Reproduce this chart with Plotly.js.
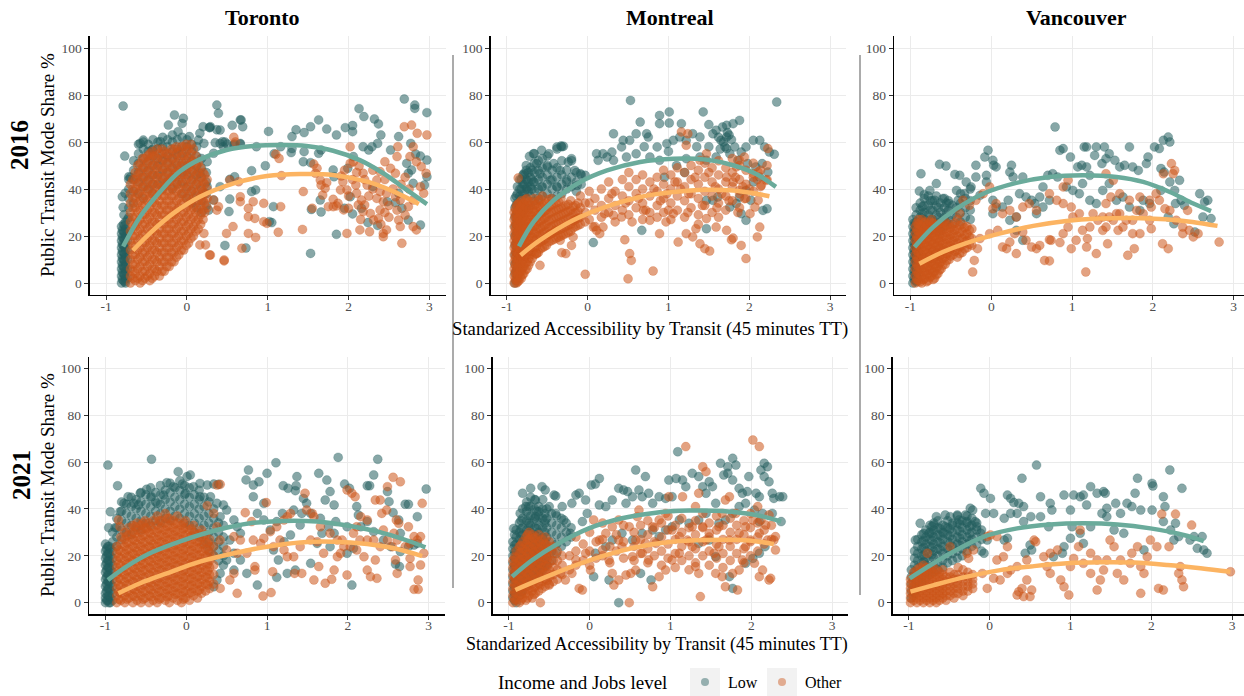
<!DOCTYPE html>
<html>
<head>
<meta charset="utf-8">
<script src="https://cdn.plot.ly/plotly-3.0.1.min.js"></script>
<style>html,body{margin:0;padding:0;background:#fff;}#chart{width:1244px;height:696px;}</style>
</head>
<body>
<div id="chart"></div>
<script>
// ---------------- DATA ----------------
const cities = ['Toronto', 'Montreal', 'Vancouver'];
const years = ['2016', '2021'];
const groups = ['Low', 'Other'];
const legendTitle = 'Income and Jobs level';
const yAxisTitle = 'Public Transit Mode Share %';
const xAxisTitle = 'Standarized Accessibility by Transit (45 minutes TT)';
const xTickVals = [-1, 0, 1, 2, 3];
const xTickText = ['-1', '0', '1', '2', '3'];
const yTickVals = [0, 20, 40, 60, 80, 100];
const yTickText = ['0', '20', '40', '60', '80', '100'];

// entries: [x, y] or [x, [y, y, ...]] (several points sharing one x)
const torontoLow2016 = [
 [-0.81,[0,3,6,9,12,15,18,21,24]],[-0.785,[1,4,7,10,13,16,19,22,25]],[-0.76,[0,2,5,8,11,14,17,20,23,26]],[-0.735,[2,6,10,14,18,22,27]],
 [-0.8,[1.5,4.5,7.5,10.5,13.5,16.5,19.5,22.5]],[-0.77,[0.5,3.5,6.5,9.5,12.5,15.5,18.5,21.5,24.5]],
 [-0.79,75.3],[-0.77,54],[-0.8,36.7],[-0.79,32.2],[-0.7,45],[-0.765,38.2],[-0.72,45.2],[-0.78,29],
 [-0.72,[28,32,36,40,44]],[-0.66,[34,39,44,48,52]],[-0.6,[38,43,47,51,55,59]],[-0.54,[36,41,45,49,53,57,60]],
 [-0.48,[40,44,48,52,56,59]],[-0.42,[38,42,46,50,54,57,61]],[-0.36,[42,46,50,53,57,60]],[-0.3,[40,44,48,52,55,58,62]],
 [-0.24,[43,47,51,54,58,61]],[-0.18,[40,45,49,53,56,60,63]],[-0.12,[42,46,50,54,57,61]],[-0.06,[38,43,47,51,55,58,62]],
 [0,[36,41,46,50,54,58,61]],[0.06,[34,39,44,48,52,56,59]],[0.12,[32,37,42,46,50,54,58]],[0.18,[30,35,40,45,49,53]],[0.24,[33,38,43,47]],
 [-0.58,59.4],[-0.54,60.8],[-0.43,56.6],[-0.33,60.1],[-0.23,67.2],[-0.155,71.5],[-0.045,70.1],[-0.06,67.9],[-0.11,64.4],[0.03,62.3],
 [0.16,63.7],[0.14,60.8],[0.25,51.6],[0.37,75.7],[0.39,72.2],[0.29,66.5],[0.41,65.1],[0.67,69.4],
 [0.2,66.5],[0.28,66.2],[0.37,65.2],[0.41,59.4],[0.45,58],[0.47,60],[0.58,58.7],[0.66,59.1],[0.21,59.4],[0.33,55.2],[0.16,46.7],
 [0.25,41],[0.33,35.3],[0.27,31],[0.41,41],
 [2.69,78.3],[2.82,75.7],[2.82,74.3],[2.97,72.5],[2.13,74.2],[2.19,70.8],[2.32,69.8],[2.37,67.7],[1.63,69.4],[1.53,66.5],[1.73,65.5],
 [1.35,65.2],[1.01,64.5],[1.96,66.1],[2.05,67],[2.05,64.4],[1.85,63],[1.45,64],[1.3,62.3],[2.4,63],[2.36,59.4],[2.62,62.3],[2.77,59.4],
 [2.83,54.9],[2.89,54],[2.97,52.3],[2.97,45.2],[2.94,41.7],[2.89,24.7],[2.74,26.8],[2.66,31.8],[2.58,34.2],[2.48,34.6],[2.36,24.5],
 [1.85,20.7],[1.66,30.2],[1.54,31.3],[1.53,12.6],[1.53,51.2],[1.44,51.6],[1.63,55.2],[1.66,56.6],[1.45,55.9],[1.29,55.5],[1.3,57.2],
 [1.16,58],[1.08,55],[0.97,49.9],[0.86,58],[0.66,59.4],[0.69,66.5],[0.66,69.4],[0.56,67.1],[0.44,60.1],[0.5,59.1],[0.59,59.1],[0.35,59.7],
 [0.28,66.1],[0.53,44.1],[0.59,45.2],[0.53,35.7],[0.52,30.4],[0.47,16],[0.73,14.9],[1.05,25.7],[1.02,26.1],[1.07,32.5],[0.85,39.6],
 [0.8,47.8],[0.8,38.9],[2.02,36.7],[2.16,31.8],[2.24,25.7],[2.05,29.4],[1.95,31.8],[2.25,56.6],[2.29,58],[2.52,56.6],[2.74,46.7],
 [2.8,42.4],[2.62,38.2],[2.3,41],[1.82,45.2],[1.65,35.3],[2.72,50.9],[2.78,48.1],[1.81,48.1],[2.06,53.8],[2.18,58],[1.99,48.8]
];
const torontoOther2016 = [
 [-0.70,[0,3,6,10,14,18,22,26,30,34,38,42]],[-0.64,[1,4,8,12,16,20,24,28,32,36,40,44,47]],
 [-0.58,[0,3,7,11,15,19,23,27,31,35,39,43,47,51]],[-0.52,[2,5,9,13,17,21,25,29,33,37,41,45,49,53]],
 [-0.46,[1,4,8,12,16,20,24,28,32,36,40,44,48,52,55]],[-0.40,[3,6,10,14,18,22,26,30,34,38,42,46,50,54]],
 [-0.34,[3,7,11,15,19,23,27,31,35,39,43,47,51,55]],[-0.28,[5,9,13,17,21,25,29,33,37,41,45,49,53,56]],
 [-0.22,[7,11,15,19,23,27,31,35,39,43,47,51,55]],[-0.16,[9,13,17,21,25,29,33,37,41,45,49,53,57]],
 [-0.10,[12,16,20,24,28,32,36,40,44,48,52,56]],[-0.04,[14,18,22,26,30,34,38,42,46,50,54,58]],
 [0.02,[17,21,25,29,33,37,41,45,49,53,57]],[0.08,[20,24,28,32,36,40,44,48,52,57]],
 [0.14,[23,27,31,35,39,43,47,51]],[0.20,[27,31,35,39,43,47]],[0.25,[32,36,40,44]],
 [-0.67,[2,5,8,12,16,20,24,28,32,36,40,44]],[-0.61,[2,6,10,14,18,22,26,30,34,38,42,46,50]],
 [-0.55,[1,5,9,13,17,21,25,29,33,37,41,45,49,53]],[-0.49,[3,7,11,15,19,23,27,31,35,39,43,47,51,54]],
 [-0.43,[2,6,10,14,18,22,26,30,34,38,42,46,50,54,56]],[-0.37,[5,9,13,17,21,25,29,33,37,41,45,49,53,57]],
 [-0.31,[5,9,13,17,21,25,29,33,37,41,45,49,53,57]],[-0.25,[7,11,15,19,23,27,31,35,39,43,47,51,55]],
 [-0.19,[9,13,17,21,25,29,33,37,41,45,49,53,57]],[-0.13,[11,15,19,23,27,31,35,39,43,47,51,55,58]],
 [-0.07,[14,18,22,26,30,34,38,42,46,50,54,58]],[-0.01,[16,20,24,28,32,36,40,44,48,52,56,59]],
 [0.05,[19,23,27,31,35,39,43,47,51,55,59]],[0.11,[22,26,30,34,38,42,46,50,54]],[0.17,[25,29,33,37,41,45,49]],[0.22,[30,34,38,42,46]],
 [0.29,11.9],[0.46,9.4],[0.23,16.2],[0.28,11.9],[0.46,9.8],[0.16,16.2],[0.21,21.1],
 [0.58,62],[0.6,60],[0.64,43.1],[0.53,43.8],[0.66,36.7],[0.66,34.6],[0.76,31.8],[0.82,34.6],[0.76,28.2],[0.84,27.5],[0.95,33.9],
 [0.95,26.1],[0.99,25.4],[0.76,21.1],[0.85,19.4],[0.68,14.8],[0.57,24],[0.49,21.1],[0.37,31],[0.39,32.5],[0.33,35.3],[1.1,54.8],
 [1.14,53],[1.17,45.7],[1.16,32.5],[1.13,21.6],[1.43,22.8],[1.44,38.9],[1.55,31.8],[1.57,50.6],[1.59,46.7],[1.61,48.8],[1.65,43.8],
 [1.66,41.7],[1.71,40.3],[1.73,42.7],[1.68,37.4],[1.81,35.6],[1.87,33.9],[1.94,31.1],[2,31.8],[1.98,21.1],[1.85,32.8],[1.75,32.5],
 [1.91,45.5],[1.93,43.1],[1.98,39.6],[2.02,50.9],[2.06,51.6],[2.13,49.8],[2.18,46.7],[2.23,41.7],[2.09,41.7],[2.1,38.2],[2.16,35.3],
 [2.2,33.2],[2.27,29.6],[2.31,26.8],[2.37,27.5],[2.39,31.1],[2.43,34.6],[2.47,38.2],[2.39,38.9],[2.35,43.8],[2.39,47.4],[2.45,51.6],
 [2.52,48.8],[2.58,46.7],[2.6,53.8],[2.61,58],[2.69,66.5],[2.78,67.2],[2.85,63.7],[2.97,63],[2.8,58],[2.76,53.8],[2.84,51.6],
 [2.9,49.5],[2.96,46.7],[2.89,41],[2.93,38.2],[2.8,35.3],[2.74,32.5],[2.7,28.9],[2.62,26.8],[2.64,24],[2.66,16.9],[2.8,24],[2.84,22.6],
 [2.43,21.1],[2.43,19.7],[2.47,22.6],[2.14,22.6],[2.26,21.8],[2.18,30.4],[2.12,33.2],[2.58,36.7],[2.64,35.3],[1.9,39.6],[1.81,32.5],
 [2.02,58],[2.2,44],[2.3,40],[2.35,36],[2.45,30],[2.5,33],[2.55,40],[2.3,48],[2.25,37],[2.4,25],[2.15,27],[2.05,44],[2.0,37],[1.95,48],
 [2.5,28],[2.6,31],[2.65,42],[2.7,45],[2.75,40],[2.1,47],[2.45,44]
];
const montrealLow2016 = [
 [-0.9,[0,4,8,12,16,20,24,28,32,36]],[-0.87,[2,6,10,14,18,22,26,30,34,38,41]],[-0.885,[1,5,9,13,17,21,25,29,33,37]],
 [-0.84,[25,29,33,37,40,44]],
 [-0.8,[30,34,38,42,46]],[-0.76,[32,36,40,44,48]],[-0.71,[33,37,41,45,49]],[-0.66,[35,39,43,47,51,55]],
 [-0.61,[36,40,44,48,52]],[-0.56,[37,41,45,49,53]],[-0.5,[38,42,46,50,54]],[-0.44,[36,40,44,48]],
 [-0.38,[37,41,45,49,57]],[-0.32,[38,42,46,52,58]],[-0.26,[40,44,48]],[-0.2,[41,45,52]],[-0.14,[39,43,47]],[-0.08,[42,46]],
 [-0.82,[36,40,44]],[-0.78,[38,42,46]],[-0.735,[39,43,47]],[-0.69,[40,44,48]],
 [-0.72,53.9],[-0.67,55],[-0.57,56.5],[-0.48,55],[-0.38,57.9],[-0.33,58.3],[-0.3,58.2],[-0.79,46.5],[-0.76,50],[-0.63,50.8],
 [-0.59,46.5],[-0.5,49.4],[-0.42,50.8],[-0.34,47.9],[-0.24,51.5],[-0.2,52.9],[-0.16,47.9],[-0.09,46.5],[-0.03,45.8],[-0.13,41.6],
 [-0.26,43],[-0.38,40.9],[-0.46,43.7],[-0.57,40.9],[-0.67,43],[-0.75,40.9],
 [0.53,77.7],[0.65,68.5],[0.89,71.3],[1.01,72.8],[1.01,68.1],[0.89,67.8],[1.16,67.8],[1.43,72.8],[1.5,67.4],[1.59,65],[1.67,66.4],
 [1.72,67.1],[1.8,67.8],[1.88,69.2],[2.34,77],[2.31,54.8],[2.25,55.7],[2.19,57.9],[2.13,60.7],[2.05,60.7],[1.96,57.9],[1.9,55.7],
 [1.82,57.9],[1.72,62.1],[1.65,60.7],[1.55,63.5],[1.39,62.1],[1.3,63.5],[1.22,60.7],[1.14,62.1],[1.06,60.7],[0.98,59.3],[0.86,57.9],
 [0.75,62.1],[0.73,63.5],[0.6,63.5],[0.52,60.7],[0.44,60.7],[0.32,63.5],[0.42,57.9],[0.3,55.7],[0.19,55],[0.11,55],[0.13,52.2],
 [0.24,53.6],[0.32,52.2],[0.48,53.6],[0.6,55],[0.77,53.6],[0.89,52.2],[1.22,52.9],[1.39,53.6],[1.47,52.2],[1.59,53.6],[1.72,57.2],
 [1.76,55],[1.86,52.2],[1.98,50.8],[2.08,49.4],[2.16,50.8],[2.23,47.2],[2.13,45.1],[2.05,43],[1.96,39.4],[1.88,36.6],[1.76,32.3],
 [1.84,33.8],[1.9,29.5],[1.96,26.7],[2.17,30.9],[2.22,31.6],[2.02,35.2],[1.47,35.2],[1.55,35.2],[1.61,36.6],[0.67,22.4],[0.07,17.2],
 [1.47,23.1],[1.62,62],[1.68,60],[1.75,63],[1.7,58],[1.78,61],[1.64,57],[1.73,64],[1.0,56],[1.1,50],[0.7,58],[1.35,58],[0.95,45],
 [1.2,47],[1.5,58]
];
const montrealOther2016 = [
 [-0.91,[0,3,6,9,12,15,18,21,24,27,30]],[-0.88,[0,3,6,9,12,15,18,21,24,27,30,33]],[-0.85,[1,4,7,10,13,16,19,22,25,28,31,34]],
 [-0.82,[2,5,8,11,14,17,20,23,26,29,32,35]],[-0.79,[4,7,10,13,16,19,22,25,28,31,34]],[-0.75,[6,9,12,15,18,21,24,27,30,33,36]],
 [-0.71,[9,12,15,18,21,24,27,30,33]],[-0.66,[12,15,18,21,24,27,30,33,36]],[-0.61,[13,17,20,23,26,29,32,35]],
 [-0.56,[15,18,21,24,27,30,33,37]],[-0.51,[16,19,22,25,28,31,34]],[-0.45,[18,21,24,27,30,33,36]],[-0.39,[19,22,25,28,31,34]],
 [-0.33,[20,23,26,29,32,36]],[-0.27,[21,24,27,30,33]],[-0.21,[22,25,28,31,35]],[-0.15,[24,27,30,33]],[-0.09,[25,28,32,37]],[-0.03,[26,30,34]],
 [-0.895,[1.5,4.5,7.5,10.5,13.5,16.5,19.5,22.5,25.5,28.5,31.5]],[-0.865,[0.5,3.5,6.5,9.5,12.5,15.5,18.5,21.5,24.5,27.5,30.5,33.5]],
 [-0.835,[2.5,5.5,8.5,11.5,14.5,17.5,20.5,23.5,26.5,29.5,32.5]],[-0.805,[3.5,6.5,9.5,12.5,15.5,18.5,21.5,24.5,27.5,30.5,33.5]],
 [-0.77,[5.5,8.5,11.5,14.5,17.5,20.5,23.5,26.5,29.5,32.5,35.5]],[-0.73,[7.5,10.5,13.5,16.5,19.5,22.5,25.5,28.5,31.5,34.5]],
 [-0.685,[10.5,13.5,16.5,19.5,22.5,25.5,28.5,31.5,34.5]],[-0.635,[12.5,15.5,18.5,21.5,24.5,27.5,30.5,33.5]],
 [-0.585,[14.5,17.5,20.5,23.5,26.5,29.5,32.5,35.5]],[-0.535,[15.5,18.5,21.5,24.5,27.5,30.5,33.5]],
 [-0.48,[17.5,20.5,23.5,26.5,29.5,32.5,35.5]],[-0.42,[18.5,21.5,24.5,27.5,30.5,33.5]],[-0.36,[19.5,22.5,25.5,28.5,31.5,34.5]],
 [-0.3,[20.5,23.5,26.5,29.5,32.5]],[-0.24,[21.5,24.5,27.5,30.5,33.5]],[-0.18,[23.5,26.5,29.5,32.5]],[-0.12,[24.5,27.5,30.5,34]],
 [-0.86,44.7],[-0.59,7.5],[-0.63,12.5],[-0.46,21],[-0.32,12.9],[-0.27,12.5],[-0.2,16],[-0.18,19.6],[-0.34,18.2],[-0.4,22.4],[-0.03,3.7],
 [0.07,23.8],[0.11,22.4],[0.15,21],[0.19,23.8],[0.21,29.5],[0.32,28.8],[0.42,28.1],[0.46,18.4],[0.52,12.5],[0.54,9.6],[0.5,1.8],
 [0.81,5.1],[0.69,30.9],[0.77,26.7],[0.89,21],[0.97,26],[1.06,29.5],[1.12,17.4],[1.22,21],[1.3,19.6],[1.39,16.7],[1.45,14.6],
 [1.51,13.6],[1.34,23.1],[1.47,27.4],[1.59,23.8],[1.72,22.4],[1.78,18.4],[1.8,19.1],[1.9,16],[1.96,10.4],[2.1,19.6],[2.13,23.8],
 [2.01,29.5],[2.07,32.3],[2.11,35.2],[1.94,35.9],[1.88,39.4],[1.8,43],[1.72,45.1],[1.84,49.4],[1.88,52.2],[1.94,53.6],[2.05,46.5],
 [2.11,47.2],[2.15,41.6],[2.21,43.7],[2.23,57.2],[1.47,55],[1.39,52.2],[1.24,63.5],[1.16,64.3],[1.22,58.6],
 [0.02,[27,34,39]],[0.09,[31,24,36]],[0.17,[33,40,28]],[0.26,[30,36,43]],[0.34,[26,33,39]],[0.43,[31,37,44]],[0.51,[29,35,41,47]],
 [0.6,[32,38,44]],[0.68,[27,34,40,46]],[0.77,[30,37,43]],[0.86,[33,39,45,28]],[0.94,[30,36,42,48]],[1.03,[27,34,40,46]],
 [1.11,[31,37,43,49]],[1.2,[28,35,41,47]],[1.28,[32,38,44,50]],[1.37,[29,36,42,48,25]],[1.45,[33,39,45,51]],[1.54,[30,37,43,49]],
 [1.62,[34,40,46,52,28]],[1.71,[31,37,43,49]],[1.79,[35,41,47,53]],[1.88,[32,38,44,50]],[1.96,[36,42,48]],[2.05,[39,45,51]],
 [2.14,[41,48]],[2.22,[44,50]],
 [0.55,26],[0.72,31],[0.9,35],[1.08,43],[1.25,38],[1.42,33],[1.58,41],[1.75,35],[1.92,41],[2.1,44],[1.33,45],[1.5,47],[1.66,38],
 [1.83,45],[1.15,40],[0.98,38],[0.82,40],[0.63,36],[0.47,34],[0.3,38],[1.0,31],[1.24,30],[1.6,32],[1.86,30],[2.0,40]
];
const vancouverLow2016 = [
 [-0.97,[0,3,6,9,12,15,18,21,24,27]],[-0.94,[1,4,7,10,13,16,19,22,25]],[-0.91,[2,5,8,11,14,17]],
 [-0.955,[1.5,4.5,7.5,10.5,13.5,16.5,19.5,22.5,25.5]],[-0.925,[0.5,3.5,6.5,9.5,12.5,15.5,18.5]],
 [-0.93,[20,23,26,29,32]],[-0.88,[22,25,28,31,34]],[-0.83,[24,27,30,33,36]],[-0.78,[21,25,29,33,37]],[-0.73,[23,27,31,35]],
 [-0.68,[25,29,33,37]],[-0.63,[22,26,30,34]],[-0.58,[24,28,32,36]],[-0.53,[27,31,35]],[-0.48,[25,29,33]],[-0.43,[28,32]],
 [-0.38,[26,30,34,38]],[-0.32,[28,32,36]],[-0.26,[27,31,35,40]],
 [-0.855,[23.5,26.5,29.5,32.5]],[-0.755,[24,27,31,35]],[-0.655,[24,28,32]],[-0.555,[26,30,34]],
 [-0.89,39.1],[-0.76,39.4],[-0.87,46.5],[-0.64,50.5],[-0.56,49.8],[-0.68,42.3],[-0.83,37.6],[-0.7,35.2],[-0.6,35.9],[-0.52,33.8],
 [-0.43,39.4],[-0.45,46.2],[-0.39,45.8],[-0.31,43],[-0.33,38],[-0.41,35.2],[-0.25,40.9],[-0.19,45.1],[-0.19,50.1],[-0.08,53.6],
 [-0.04,56.5],[0.02,52.2],[0.03,50.1],[-0.06,45.8],[-0.06,43],[-0.14,37.3],[0.02,35.2],[0.06,32.3],[0.14,32.3],[0.21,35.2],
 [0.23,47.2],[0.25,50.1],[0.27,45.1],[0.39,45.1],[0.35,38],[0.43,36.6],[0.5,35.2],[0.54,33.8],[0.6,36.6],[0.64,40.9],[0.7,45.8],
 [0.76,46.5],[0.82,45.1],[0.85,56.5],[0.89,57.2],[0.79,66.4],[0.98,53.6],[1.07,49.4],[1.12,50.1],[1.18,49.4],[1.22,45.8],[1.13,42.3],
 [1.15,57.9],[1.18,57.9],[1.3,57.9],[1.4,57.9],[1.28,54.3],[1.37,50.8],[1.46,55],[1.42,52.9],[1.53,52.2],[1.59,49.4],[1.65,50.1],
 [1.71,57.9],[1.75,49.4],[1.82,47.9],[1.92,50.8],[1.94,53.6],[2.02,57.9],[2.08,57.2],[2.13,60.7],[2.19,62.1],[2.21,60],[2.1,48.7],
 [2.14,47.2],[2.21,43],[2.27,39.4],[2.33,43.7],[2.35,35.2],[2.28,33.8],[2.39,33.1],[2.1,39.4],[2.19,28.1],[2.26,25.2],[2.52,21.7],
 [2.62,28.1],[2.72,27.4],[2.58,38],[2.64,34.5],[2.68,35.2],[1.84,30.9],[1.88,35.2],[1.96,33.8],[1.71,32.3],[1.63,36.6],[1.55,35.2],
 [1.46,42.3],[1.38,39.4],[1.3,33.8],[1.22,35.2],[1.09,38],[1.01,39.4],[0.93,40.9],[0.72,35.2],[0.64,32.3],[0.56,29.5],[0.31,28.1],
 [0.23,26.7],[0.31,22.4],[0.39,18.2],[0.02,29.5],[0.06,49.4]
];
const vancouverOther2016 = [
 [-0.94,[0,3,6,9,12,15,18,21,24]],[-0.9,[1,4,7,10,13,16,19,22,25,27]],[-0.86,[0,3,6,9,12,15,18,21,24,27]],
 [-0.82,[2,5,8,11,14,17,20,23,26]],[-0.78,[1,4,7,10,13,16,19,22,25]],[-0.74,[3,6,9,12,15,18,21,24,27]],
 [-0.7,[2,5,8,11,14,17,20,23]],[-0.66,[4,7,10,13,16,19,22,25]],[-0.62,[6,9,12,15,18,21,24]],[-0.57,[8,11,14,17,20,23,26]],
 [-0.52,[10,13,16,19,22,25]],[-0.47,[12,15,18,21,24]],[-0.42,[11,14,17,20,23,27]],[-0.36,[13,16,19,22,25]],[-0.3,[15,18,21,24]],[-0.24,[16,19,23]],
 [-0.92,[1.5,4.5,7.5,10.5,13.5,16.5,19.5,22.5,25.5]],[-0.88,[0.5,3.5,6.5,9.5,12.5,15.5,18.5,21.5,24.5]],
 [-0.84,[1.5,4.5,7.5,10.5,13.5,16.5,19.5,22.5,25.5]],[-0.8,[0.5,3.5,6.5,9.5,12.5,15.5,18.5,21.5,24.5]],
 [-0.76,[2.5,5.5,8.5,11.5,14.5,17.5,20.5,23.5,26]],[-0.72,[1.5,4.5,7.5,10.5,13.5,16.5,19.5,22.5,25.5]],
 [-0.68,[3.5,6.5,9.5,12.5,15.5,18.5,21.5,24.5]],[-0.64,[5.5,8.5,11.5,14.5,17.5,20.5,23.5]],
 [-0.6,[7.5,10.5,13.5,16.5,19.5,22.5,25.5]],[-0.55,[9.5,12.5,15.5,18.5,21.5,24.5]],[-0.5,[11.5,14.5,17.5,20.5,23.5]],
 [-0.45,[13.5,16.5,19.5,22.5,25.5]],[-0.39,[12.5,15.5,18.5,21.5,24.5]],[-0.33,[14.5,17.5,20.5,23.5]],[-0.27,[16.5,19.5,22.5]],
 [-0.23,4.7],[-0.21,9.6],[-0.17,14.6],[-0.14,18.9],[-0.02,21],[0.08,22.4],[0.14,15.3],[0.19,14.6],[0.23,17.4],[0.29,21],[0.31,12.5],
 [0.39,21.7],[0.43,18.2],[0.5,15.3],[0.56,14.6],[0.6,16],[0.66,9.6],[0.72,9.4],[0.72,18.4],[0.74,18.2],[0.85,17.2],[0.99,14.6],
 [0.89,21],[0.95,23.8],[1.01,28.1],[1.05,18.2],[1.18,15.3],[1.17,4.7],[1.19,18.9],[1.3,12.5],[1.44,16.7],[1.57,22.4],[1.69,11.8],
 [1.77,14.6],[2.12,16.7],[2.19,14.6],[2.45,22.4],[2.5,19.6],[2.56,21],[2.43,30.9],[2.37,23.8],[2.82,17.4],[2.23,50.8],[2.27,47.9],
 [2.25,46.5],[2.13,46.5],[2.04,38],[2.08,35.2],[1.98,32.3],[1.98,23.1],[1.96,26.7],[1.88,29.5],[1.8,30.9],[1.75,26.7],[1.67,26.7],
 [1.63,23.8],[1.55,29.5],[1.51,26.7],[1.42,23.8],[1.38,28.1],[1.32,26.7],[1.26,29.5],[1.22,23.8],[1.13,22.4],[1.09,29.5],[0.99,32.3],
 [0.89,33.8],[0.81,35.2],[0.89,40.9],[0.95,43.7],[0.72,38],[0.56,30.9],[0.47,33.8],[0.39,32.3],[0.31,28.1],[0.23,30.9],[0.14,29.5],
 [0.06,33.8],[0.02,31.6],[-0.02,40.9],[-0.1,38],[-0.19,35.2],[-0.27,33.1],[-0.35,35.2],[-0.39,29.5],[1.42,33.8],[1.48,36.6],
 [1.42,46.5],[1.51,43.7],[1.59,38],[1.71,35.2],[1.84,36.6],[1.96,35.2],[2.15,31.6],[2.21,30.9],[2.29,26.7],[2.37,21],[1.84,21],
 [1.75,21],[1.38,22.4],[1.46,28.1],[1.59,29.5]
];
const torontoLow2021 = [
 [-1.0,[0,2,4,7,10,13,16,19,22,25]],[-0.97,[1,3,6,9,12,15,18,21,24]],[-0.94,[0,2,5,8,11,14,17,20,23]],[-0.91,[1,4,7,10,13,16,19,22,26,30]],
 [-0.985,[1,5,8,11,14,17,20,23]],[-0.955,[0,3,6,9,12,15,18,21,24]],
 [-0.86,[24,28,32,36]],[-0.8,[27,31,35,39,43]],[-0.74,[30,34,38,42]],[-0.68,[29,33,37,41,45]],[-0.62,[32,36,40,44]],
 [-0.56,[31,35,39,43,47]],[-0.5,[34,38,42,46]],[-0.44,[33,37,41,45,49]],[-0.38,[35,39,43,47]],[-0.32,[34,38,42,46,50]],
 [-0.26,[36,40,44,48]],[-0.2,[35,39,43,47,51]],[-0.14,[37,41,45,49]],[-0.08,[36,40,44,48,52]],[-0.02,[34,38,42,46,50]],
 [0.04,[33,37,41,45,49]],[0.1,[30,34,38,42,46]],[0.16,[28,32,36,40,44,48]],[0.22,[25,29,33,37,41,45]],[0.28,[22,26,30,34,38,43]],
 [0.34,[20,24,28,32,36,40]],[0.4,[18,22,26,30,34]],[0.46,[16,20,24,28,33]],
 [-0.97,58.7],[-0.43,61.2],[-0.85,49.9],[-0.94,38.8],[-0.96,32],[-0.88,32],[-0.82,38.8],[-0.77,42.4],[-0.72,45.2],[-0.65,42.4],
 [-0.59,41.7],[-0.57,46.7],[-0.49,48.4],[-0.43,45.2],[-0.36,42.4],[-0.28,45.9],[-0.24,51.2],[-0.16,49.5],[-0.1,55.9],[-0.05,50.6],
 [-0.01,46.7],[0.01,53.8],[0.05,54.5],[0.09,49.5],[0.17,50.9],[0.26,50.2],[0.34,50.6],[0.4,50.5],[0.17,45.2],[0.3,45.2],[0.38,42.4],
 [0.46,41.7],[0.5,39.5],[0.42,36.7],[0.59,35.3],[0.63,32.4],[0.67,29.6],[0.54,26.7],[0.59,21.1],[0.5,18.2],[0.42,12.5],[0.38,9.7],
 [0.34,6.8],[0.59,13.9],[0.67,18.2],[0.75,12.5],
 [0.77,56.6],[0.74,52.4],[0.83,50.2],[0.9,51.6],[1,55.2],[1.11,59.7],[1.2,49.9],[1.26,48.8],[1.35,47.8],[1.37,53.8],[1.36,49.9],
 [1.45,44.5],[1.49,42.4],[1.64,55.2],[1.74,52.3],[1.72,43.8],[1.78,47.4],[1.83,41.7],[1.88,62],[1.96,50.6],[2.02,48.8],[2.11,41],
 [2.13,37.4],[2.24,49.9],[2.27,49.9],[2.32,54.5],[2.37,61.2],[2.49,47.4],[2.51,43.1],[2.56,38.4],[2.63,35.3],[2.71,42],[2.75,42],
 [2.86,36.7],[2.97,48.5],[2.82,24.6],[2.64,15.4],[2.59,16.5],[2.05,7.5],[2.07,23.2],[1.99,21.1],[1.78,23.9],[1.83,29.6],[1.76,32.4],
 [1.68,29.6],[1.62,25.3],[1.54,16.8],[1.35,13.9],[1.25,12.5],[1.12,10.8],[0.88,7.5],[1.14,18.2],[1.08,22.5],[1.21,26],[1.29,28.9],
 [1.41,33.1],[1.54,38.1],[1.66,36],[1.85,34.6],[1.99,32.4],[2.16,32.4],[2.24,34.6],[2.32,30.3],[2.44,26.7],[2.53,23.9],[2.65,21.8],
 [2.75,23.9],[2.86,25.3],[2.65,29.6],[1.43,38.1],[1.33,39.5],[1.19,38.1],[1.12,34.6],[1.04,31],[0.96,35.3],[0.88,38.1],[0.83,45.2],[0.96,42.4]
];
const torontoOther2021 = [
 [-0.86,[0,3,6,9,12,15,18,21,24]],[-0.81,[1,4,7,10,13,16,19,22,25,28]],[-0.76,[0,3,6,9,12,15,18,21,24,27,30]],
 [-0.71,[2,5,8,11,14,17,20,23,26,29,32]],[-0.66,[0,3,6,9,12,15,18,21,24,27,30,33]],[-0.61,[1,4,7,10,13,16,19,22,25,28,31,34]],
 [-0.56,[0,3,6,9,12,15,18,21,24,27,30,33]],[-0.51,[2,5,8,11,14,17,20,23,26,29,32,35]],[-0.46,[0,3,6,9,12,15,18,21,24,27,30,34]],
 [-0.41,[1,4,7,10,13,16,19,22,25,28,31,35]],[-0.36,[0,3,6,9,12,15,18,21,24,27,30,33,37]],[-0.31,[2,5,8,11,14,17,20,23,26,29,32,35]],
 [-0.26,[1,4,7,10,13,16,19,22,25,28,31,34,38]],[-0.21,[0,3,6,9,12,15,18,21,24,27,30,33,36]],[-0.16,[2,5,8,11,14,17,20,23,26,29,32,35]],
 [-0.11,[1,4,7,10,13,16,19,22,25,28,31,34,37]],[-0.06,[0,3,6,9,12,15,18,21,24,27,30,33]],[-0.01,[2,5,8,11,14,17,20,23,26,29,32,35]],
 [0.04,[1,4,7,10,13,16,19,22,25,28,31]],[0.09,[3,6,9,12,15,18,21,24,27,30,33]],[0.14,[2,5,8,11,14,17,20,23,26,29]],
 [0.19,[4,7,10,13,16,19,22,25,28,31]],[0.24,[5,8,11,14,17,20,23,26,29]],[0.29,[6,9,12,15,18,21,24,27]],[0.34,[8,12,16,20,24]],
 [-0.835,[1.5,4.5,7.5,10.5,13.5,16.5,19.5,22.5]],[-0.735,[1.5,4.5,7.5,10.5,13.5,16.5,19.5,22.5,25.5,28.5]],
 [-0.635,[2.5,5.5,8.5,11.5,14.5,17.5,20.5,23.5,26.5,29.5,32.5]],[-0.535,[1.5,4.5,7.5,10.5,13.5,16.5,19.5,22.5,25.5,28.5,31.5,34]],
 [-0.435,[2.5,5.5,8.5,11.5,14.5,17.5,20.5,23.5,26.5,29.5,32.5]],[-0.335,[1.5,4.5,7.5,10.5,13.5,16.5,19.5,22.5,25.5,28.5,31.5,35]],
 [-0.235,[2.5,5.5,8.5,11.5,14.5,17.5,20.5,23.5,26.5,29.5,32.5,36]],[-0.135,[3.5,6.5,9.5,12.5,15.5,18.5,21.5,24.5,27.5,30.5,33.5]],
 [-0.035,[1.5,4.5,7.5,10.5,13.5,16.5,19.5,22.5,25.5,28.5,31.5,34]],[0.065,[4.5,7.5,10.5,13.5,16.5,19.5,22.5,25.5,28.5,31.5]],
 [0.165,[5.5,8.5,11.5,14.5,17.5,20.5,23.5,26.5,29.5]],[0.265,[7.5,10.5,13.5,16.5,19.5,22.5,25.5]],
 [-0.84,35.3],[-0.82,32.4],[-0.49,31.7],[0.26,41.4],[0.38,50.2],[0.42,50.5],[0.34,38.1],[0.59,28.2],[0.67,26.7],[0.54,9.7],[0.63,4],
 [0.42,6.1],[0.59,12.5],[0.73,38.4],[0.81,34.6],[0.96,27.5],[0.99,42.7],[1.04,30.3],[0.95,2.8],[1.05,4.3],[0.85,15.4],[0.85,13.9],
 [1.07,13.2],[1.16,26.7],[1.12,32.4],[1.21,35.3],[1.25,36.7],[1.29,38.1],[1.34,12.5],[1.43,12.5],[1.47,46.7],[1.49,39.5],[1.56,38.1],
 [1.58,36.7],[1.54,26.7],[1.58,9.7],[1.64,15.4],[1.7,21.1],[1.72,8.3],[1.8,10],[1.83,13.9],[1.87,19.6],[1.91,21.1],[1.95,23.9],
 [1.99,11.8],[1.99,48.1],[2.05,46.7],[2.09,45.2],[2.11,32.4],[2.15,26.7],[2.2,19.6],[2.24,13.9],[2.28,11.1],[2.36,10.4],[2.34,18.2],
 [2.4,23.9],[2.44,31],[2.42,38.1],[2.48,39.5],[2.4,43.8],[2.34,43.8],[2.49,49.5],[2.56,53.5],[2.65,51.6],[2.63,33.9],[2.61,26.7],
 [2.55,23.9],[2.59,18.2],[2.61,12.5],[2.71,23.9],[2.77,18.9],[2.82,28.2],[2.86,26.7],[2.9,28.2],[2.92,42.4],[2.77,15.4],[2.82,5.7],
 [2.87,5.7],[2.87,9.7],[2.9,16.1],[2.94,21.1],[2.24,26.7],[2.07,29.6],[1.87,26.7],[1.78,29.6],[1.66,32.4],[1.62,26],[1.41,23.9],
 [1.33,19.6],[1.25,19.6],[1.21,22.5],[1.08,23.9],[0.92,25.3],[0.83,26.7],[0.75,21.1],[0.63,21.1],[0.5,22.5],[0.42,26.7],[0.38,32.4],
 [1.93,26.7],[2.03,23.9],[2.11,22.5],[2.16,36.7],[2.24,35.3],[2.32,26.7],[2.49,26.7],[2.57,29.6],[2.77,25.3],[2.75,32.4],[2.6,35.3]
];
const montrealLow2021 = [
 [-0.95,[2,5,8,11,14,17,20,23,26]],[-0.91,[0,4,7,10,13,16,19,22,25,28,31]],[-0.87,[3,6,9,12,15,18,21,24,27,30,34]],
 [-0.83,[5,8,11,14,17,20,23,26,29,32,36,40]],[-0.78,[7,10,13,16,19,22,25,28,31,35,39,43]],[-0.73,[9,12,15,18,21,24,27,30,33,37,41,45]],
 [-0.68,[11,14,17,20,23,26,29,32,36,40,44]],[-0.63,[12,15,18,21,24,27,30,33,37,41]],[-0.58,[14,17,20,24,28,32,36,40,44]],
 [-0.53,[16,20,24,28,32,36,40]],[-0.47,[18,22,26,30,34,38]],[-0.41,[21,25,29,33,37]],[-0.35,[24,28,32,36]],[-0.29,[26,30,34]],[-0.23,[28,32]],
 [-0.93,[1,3.5,6.5,9.5,12.5,15.5,18.5,21.5,24.5,29]],[-0.85,[4.5,7.5,10.5,13.5,16.5,19.5,22.5,25.5,28.5,31.5,35]],
 [-0.755,[8.5,11.5,14.5,17.5,20.5,23.5,26.5,29.5,33,37,41]],[-0.655,[13.5,16.5,19.5,22.5,25.5,28.5,31.5,35,39]],
 [-0.555,[15.5,18.5,22,26,30,34,38]],
 [-0.83,46.7],[-0.73,48.8],[-0.59,49.5],[-0.55,48.1],[-0.44,45.9],[-0.42,45.5],[-0.94,31.7],[-0.86,38.1],[-0.79,41],[-0.67,43.8],
 [-0.63,38.8],[-0.5,41],[-0.67,36.7],[-0.75,33.9],[-0.55,35.3],[-0.42,38.1],[-0.34,41],[-0.22,42.4],[-0.17,45.9],[-0.13,46.7],
 [-0.32,35.3],[-0.24,29.6],[-0.09,34.6],[-0.03,38.1],[0.02,50.2],[0.07,50.6],[0.12,53],[-0.05,43.8],[0.12,41.7],[0.2,41],[0.28,43.8],
 [0.36,48.8],[0.42,48.1],[0.47,47.4],[0.45,42.4],[0.53,45.2],[0.57,56.6],[0.69,53.8],[0.61,48.1],[0.65,45.2],[0.73,46.7],[0.78,42.4],
 [0.86,45.2],[0.94,44.5],[1.02,45.2],[1.09,64.4],[0.98,52.3],[1.07,53],[1.15,52.3],[1.19,49.5],[1.27,55.2],[1.35,53.8],[1.4,49.5],
 [1.44,46.7],[1.48,51.6],[1.52,49.5],[1.56,42.4],[1.62,59.5],[1.66,54.5],[1.71,58],[1.77,61.6],[1.71,55.2],[1.77,52.3],[1.81,58.7],
 [1.85,48.8],[1.89,46.7],[1.97,53.8],[1.95,47.4],[2.06,46.7],[2.1,45.2],[2.12,56.6],[2.16,59.5],[2.2,58],[2.16,53.8],[2.22,51.6],
 [2.26,46.7],[2.28,44.5],[2.35,45.2],[2.39,45.2],[2.37,34.6],[2.1,34.6],[2.14,38.1],[2.04,39.5],[1.93,42.4],[1.85,41],[1.77,38.1],
 [1.68,35.3],[1.6,33.9],[1.44,38.1],[1.35,35.3],[1.23,33.9],[1.11,35.3],[1.02,32.4],[0.94,31],[0.86,28.2],[0.78,31],[0.65,29.6],
 [0.53,26.7],[0.4,29.6],[0.28,26.7],[0.2,23.9],[0.07,21.1],[0.05,11.1],[0.24,9.7],[0.36,0],[0.63,12.5],[0.76,9.7],[1.35,25.3],
 [1.77,6.1],[1.73,11.1],[1.93,16.8],[2.02,18.9],[2.1,21.1],[2.17,23.9],[1.56,19.6],[1.48,26.7],[2.26,38.1]
];
const montrealOther2021 = [
 [-0.95,[0,3,6,9,12,15,18]],[-0.91,[1,4,7,10,13,16,19,22]],[-0.87,[0,3,6,9,12,15,18,21,24]],[-0.83,[2,5,8,11,14,17,20,23,26]],
 [-0.79,[1,4,7,10,13,16,19,22,25,28]],[-0.75,[3,6,9,12,15,18,21,24,27,30]],[-0.71,[2,5,8,11,14,17,20,23,26,29]],
 [-0.67,[4,7,10,13,16,19,22,25,28]],[-0.63,[5,8,11,14,17,20,23,26,29]],[-0.59,[6,9,12,15,18,21,24,27]],[-0.55,[7,10,13,16,19,22,25,28]],
 [-0.5,[8,11,14,17,20,23,26]],[-0.45,[9,12,15,18,21,24]],[-0.4,[10,14,18,22]],[-0.34,[12,16,20]],
 [-0.93,[1.5,4.5,7.5,10.5,13.5,16.5,19.5]],[-0.85,[1,3.5,6.5,9.5,12.5,15.5,18.5,21.5,24.5]],[-0.77,[2,5.5,8.5,11.5,14.5,17.5,20.5,23.5,26.5,29]],
 [-0.69,[3.5,6.5,9.5,12.5,15.5,18.5,21.5,24.5,27.5]],[-0.61,[7.5,10.5,13.5,16.5,19.5,22.5,25.5]],[-0.525,[9.5,12.5,15.5,18.5,21.5,24.5]],
 [-0.61,0],[-0.5,7.5],[-0.36,12.5],[-0.3,9.7],[-0.22,12.5],[-0.13,6.1],[-0.09,5.4],[-0.17,18.2],[-0.05,21.1],[0.01,13.9],[0.05,35.3],
 [0.12,26.7],[0.16,22.5],[0.2,29.6],[0.24,18.2],[0.28,12.5],[0.3,7.5],[0.36,9.7],[0.49,0],[0.45,11.8],[0.51,12.5],[0.57,13.9],
 [0.61,39.5],[0.59,36.7],[0.49,32.4],[0.4,23.9],[0.57,26.7],[0.69,25.3],[0.73,18.2],[0.78,6.8],[0.86,11.1],[0.94,13.9],[1.02,18.2],
 [1.11,21.1],[1.19,66.6],[1.21,26.7],[1.27,23.9],[1.31,15.4],[1.35,12.5],[1.37,2.6],[1.4,58],[1.44,55.9],[1.35,46.7],[1.31,41],
 [1.4,32.4],[1.48,29.6],[1.54,21.1],[1.56,12.5],[1.64,11.1],[1.68,6.8],[1.77,12.5],[1.83,5.4],[1.85,13.9],[1.89,18.2],[1.93,23.9],
 [1.99,26.7],[2.04,16.8],[2.1,11.1],[2.14,13.9],[2.22,9.7],[2.02,69.4],[2.1,66.6],[2.08,41],[2.12,35.3],[2.18,33.1],[2.22,37.4],
 [2.28,26.7],[2.3,28.2],[2.3,22.5],[2.24,10.4],[1.81,38.1],[1.73,45.2],[1.68,43.8],[1.64,38.1],[1.6,32.4],[0.98,45.2],[0.94,38.1],
 [0.86,35.3],[0.78,32.4],[1.02,31],[1.15,45.2],[1.11,28.2],[1.27,32.4],[1.44,26.7],[1.6,23.9],[1.73,26.7],[1.85,29.6],[1.93,32.4],
 [2.02,35.3],[2.1,29.6],[2.2,26.7],[0.82,25.3],[0.65,21.1],[0.53,19.6],[0.36,26.7],[0.28,32.4],[0.36,35.3],
 [0.55,[18,24,30]],[0.63,[21,27,33]],[0.72,[17,23,29,35]],[0.8,[20,26,32]],[0.89,[16,22,28,34]],[0.97,[19,25,31,37]],
 [1.06,[15,21,27,33]],[1.14,[18,24,30,36]],[1.23,[14,20,26,32]],[1.31,[17,23,29,35]],[1.4,[20,26,32,38]],[1.48,[16,22,28,34]],
 [1.57,[19,25,31,37]],[1.65,[15,21,27,33]],[1.74,[18,24,30,36]],[1.82,[21,27,33]],[1.91,[17,23,29,35]],[1.99,[20,26,32,38]],
 [2.08,[22,28,34]],[2.16,[25,31]],[2.25,[27,33]],
 [-0.25,[14,20]],[-0.17,[16,22,28]],[-0.08,[18,25]],[0.0,[16,22,30]],[0.08,[19,26]],[0.16,[20,27,34]],[0.25,[17,24]],[0.33,[22,29]],[0.42,[19,26,33]]
];
const vancouverLow2021 = [
 [-0.97,[2,5,8,11,14]],[-0.93,[4,7,10,13,16,19,22]],[-0.89,[6,9,12,15,18,21,24,27]],[-0.84,[8,11,14,17,20,23,26,29]],
 [-0.79,[10,13,16,19,22,25,28,31]],[-0.74,[12,15,18,21,24,27,30,33]],[-0.69,[13,16,19,22,25,28,31,34]],[-0.64,[14,17,20,23,26,29,32,35]],
 [-0.58,[15,18,21,24,27,30,33]],[-0.52,[17,20,23,26,29,32,35]],[-0.46,[18,21,24,27,30,33]],[-0.4,[19,22,25,28,31,34,37]],
 [-0.34,[20,23,26,29,32,35]],[-0.28,[22,25,28,31,34,37]],[-0.22,[24,27,30,33,36]],[-0.16,[25,28,31,34]],[-0.1,[22,27,31]],
 [-0.815,[17.5,20.5,23.5,26.5,29.5]],[-0.715,[20.5,23.5,26.5,29.5,32.5]],[-0.61,[22.5,25.5,28.5,31.5]],[-0.49,[22.5,25.5,28.5,31.5]],
 [-0.37,[24.5,27.5,30.5,33.5]],[-0.25,[26.5,29.5,32.5]],
 [-0.92,26.7],[-0.86,33.9],[-0.75,29.6],[-0.69,33.1],[-0.66,36.7],[-0.55,37.4],[-0.55,32.4],[-0.57,29.6],[-0.49,36.7],[-0.46,33.9],
 [-0.4,37.4],[-0.38,35.3],[-0.3,37.4],[-0.28,34.6],[-0.24,40.3],[-0.21,39.5],[-0.18,34.6],[-0.11,48.8],[-0.07,46.7],[-0.16,32.4],
 [-0.11,29.6],[-0.05,38.1],[0.05,38.1],[-0.03,26.7],[-0.07,21.1],[0.01,44.5],[0.18,36],[0.22,45.9],[0.26,44.5],[0.3,42.7],[0.36,42.4],
 [0.4,53.1],[0.42,41],[0.34,38.1],[0.51,36.7],[0.42,34.6],[0.26,38.1],[0.22,27.5],[0.18,26.7],[0.5,24.6],[0.52,22.5],[0.44,21.1],
 [0.58,58.7],[0.63,45.2],[0.63,36.7],[0.73,32.4],[0.75,42.4],[0.77,39.5],[0.79,19.6],[0.9,21.1],[1,27.5],[0.92,45.9],[1,39.5],
 [1.02,32.4],[1.04,45.9],[1.12,45.2],[1.16,45.9],[1.2,41.7],[1.25,32.4],[1.25,49.5],[1.33,46.7],[1.41,47.4],[1.43,46.7],[1.45,40.3],
 [1.45,36.7],[1.39,38.1],[1.54,31],[1.56,42.4],[1.62,38.1],[1.66,29.6],[1.7,42.4],[1.76,41],[1.83,53.1],[1.8,46.7],[1.87,39.5],
 [1.91,22.5],[2.01,50.9],[2.02,49.8],[2.01,39.5],[2.15,45.2],[2.17,41],[2.15,34.6],[2.23,56.6],[2.24,31],[2.28,26.7],[2.34,28.2],
 [2.3,33.9],[2.38,48.8],[2.48,26.7],[2.53,28.2],[2.57,23.2],[2.65,22.5],[2.63,28.2],[2.69,21.1],[1.12,29.6],[1.16,25.3],[0.92,23.9]
];
const vancouverOther2021 = [
 [-0.98,[0,2,4,6,8,10]],[-0.94,[1,3,5,7,9,11,13]],[-0.9,[0,2,4,6,8,10,12,14]],[-0.86,[1,3,5,7,9,11,13,15]],
 [-0.82,[0,2,4,6,8,10,12,14,16]],[-0.78,[1,3,5,7,9,11,13,15]],[-0.74,[0,2,4,6,8,10,12,14]],[-0.7,[1,3,5,7,9,11,13,15]],
 [-0.66,[0,2,4,6,8,10,12,14]],[-0.62,[1,3,5,7,9,11,13]],[-0.58,[2,4,6,8,10,12,14]],[-0.54,[1,3,5,7,9,11]],
 [-0.49,[3,5,7,9,11,13]],[-0.44,[2,4,6,8,10,12]],[-0.39,[4,6,8,10,12,15]],[-0.33,[3,5,7,9,11,14]],[-0.27,[5,7,9,11,13]],[-0.21,[6,8,10,12]],
 [-0.77,21.1],[-0.49,23.9],[-0.28,21.1],[-0.26,18.9],[-0.2,22.5],[-0.09,12.5],[-0.03,28.2],[0.01,28.9],[0.09,28.2],[0.09,18.2],
 [0.05,10.4],[-0.03,6.1],[0.13,9.7],[0.22,12.5],[0.26,13.9],[0.34,3.3],[0.36,4.7],[0.42,2.6],[0.5,2.6],[0.4,6.1],[0.46,9.7],[0.52,5.4],
 [0.55,26.7],[0.57,26],[0.67,19.6],[0.71,15.4],[0.75,12.5],[0.88,9.7],[0.92,6.8],[0.98,3.3],[1,15.4],[1.04,18.9],[1.1,23.9],[1.12,31],
 [1.25,21.1],[1.25,12.5],[1.33,5.4],[1.37,9.7],[1.41,13.9],[1.45,18.2],[1.49,26.7],[1.54,23.9],[1.58,12.5],[1.66,9.7],[1.74,16.8],
 [1.76,21.1],[1.83,23.9],[1.87,15.4],[1.87,4],[1.91,12.5],[1.95,19.6],[1.99,26.7],[2.07,23.9],[2.09,6.1],[2.15,5.4],[2.22,23.9],
 [2.13,37.8],[2.3,37.8],[2.34,12.5],[2.38,9.7],[2.36,15.4],[2.4,6.8],[2.5,33.1],[2.98,13.2],[1.62,18.2],[1.33,18.2],[1.16,16.8],
 [0.84,22.5],[0.75,21.1],[0.46,18.2],[0.34,15.4],[0.17,19.6],[0.22,23.9]
];
// fitted curves
const torontoLowFit2016 = [[-0.79,15.5],[-0.58,28.2],[-0.33,38.9],[-0.09,47.4],[0.16,52.6],[0.49,56.6],[0.82,58.3],[1.19,58.7],[1.48,58.3],[1.81,56.3],[2.14,52.3],[2.43,46.7],[2.72,39.6],[2.97,33.6]];
const torontoOtherFit2016 = [[-0.67,13.8],[-0.46,21.1],[-0.17,29.6],[0.16,36.7],[0.58,42.4],[0.99,45.5],[1.4,46.4],[1.81,46],[2.23,43.1],[2.56,38.9],[2.87,33.6]];
const montrealLowFit2016 = [[-0.85,15.6],[-0.67,26],[-0.42,35.2],[-0.09,43],[0.24,47.9],[0.65,51.5],[1.06,52.9],[1.47,52.5],[1.8,50.1],[2.08,46.5],[2.33,40.9]];
const montrealOtherFit2016 = [[-0.83,11.8],[-0.59,18.2],[-0.18,26.7],[0.24,32.6],[0.65,36.6],[1.06,38.7],[1.47,39.7],[1.8,39.4],[2.04,38.3],[2.25,36.9]];
const vancouverLowFit2016 = [[-0.95,15.3],[-0.72,23.8],[-0.43,31.6],[-0.1,38],[0.31,42.6],[0.72,45.1],[1.13,45.8],[1.55,45.1],[1.88,43],[2.21,38.7],[2.5,33.8],[2.72,30.6]];
const vancouverOtherFit2016 = [[-0.89,8.2],[-0.6,13.2],[-0.31,17],[0.1,21],[0.52,24.3],[0.93,26.4],[1.34,27.4],[1.75,27.7],[2.16,27.1],[2.49,26],[2.8,24.3]];
const torontoLowFit2021 = [[-0.97,9.7],[-0.74,15.4],[-0.45,21.1],[-0.03,26.7],[0.38,31],[0.79,33.9],[1.21,34.9],[1.62,34.6],[2.03,32.7],[2.45,29.6],[2.78,26],[2.96,23.6]];
const torontoOtherFit2021 = [[-0.84,4],[-0.57,8.3],[-0.24,12.5],[0.17,17.5],[0.59,21.1],[1,23.9],[1.41,25.7],[1.83,26],[2.24,25],[2.57,23.2],[2.92,19.9]];
const montrealLowFit2021 = [[-0.96,11.1],[-0.71,18.2],[-0.42,24.6],[-0.01,31.7],[0.4,36],[0.82,38.4],[1.23,39.3],[1.64,39.1],[2.06,37.4],[2.37,34.6]];
const montrealOtherFit2021 = [[-0.92,5.4],[-0.63,9.7],[-0.22,15.4],[0.2,20.3],[0.61,23.9],[1.02,26],[1.44,26.7],[1.85,26.7],[2.1,26],[2.28,25]];
const vancouverLowFit2021 = [[-0.99,10.4],[-0.49,21],[-0.07,28.2],[0.34,31.7],[0.75,33.4],[1.16,33.9],[1.58,33.4],[1.99,31.7],[2.4,28.9],[2.65,26.3]];
const vancouverOtherFit2021 = [[-0.98,4.7],[-0.69,7.5],[-0.28,11.1],[0.13,13.9],[0.55,15.6],[0.96,16.8],[1.37,17.2],[1.78,17.1],[2.2,16.1],[2.61,14.7],[2.98,13.2]];

// ---------------- BUILD ----------------
const W = 1244, H = 696;
const FONT = 'Liberation Serif, Times New Roman, serif';
const LOW_PT = 'rgba(36,94,94,0.55)', OTHER_PT = 'rgba(204,85,25,0.55)';
const LOW_FIT = '#6aab9b', OTHER_FIT = '#fcb462';

function expand(entries) {
  const xs = [], ys = [];
  entries.forEach(e => {
    if (Array.isArray(e[1])) e[1].forEach(y => { xs.push(e[0]); ys.push(y); });
    else { xs.push(e[0]); ys.push(e[1]); }
  });
  return { xs, ys };
}
const px = v => v / W;
const py = v => 1 - v / H;

const row1 = [py(294.75), py(36.25)];
const row2 = [py(614.4), py(356.6)];
const panels = [
  { d: [torontoLow2016, torontoOther2016, torontoLowFit2016, torontoOtherFit2016], xd: [90, 445.5], xr: [-1.2, 3.2], yd: row1 },
  { d: [montrealLow2016, montrealOther2016, montrealLowFit2016, montrealOtherFit2016], xd: [490.7, 846.2], xr: [-1.2, 3.2], yd: row1 },
  { d: [vancouverLow2016, vancouverOther2016, vancouverLowFit2016, vancouverOtherFit2016], xd: [894.3, 1244], xr: [-1.2, 3.128], yd: row1 },
  { d: [torontoLow2021, torontoOther2021, torontoLowFit2021, torontoOtherFit2021], xd: [89.3, 444.8], xr: [-1.2, 3.2], yd: row2 },
  { d: [montrealLow2021, montrealOther2021, montrealLowFit2021, montrealOtherFit2021], xd: [492.7, 848.2], xr: [-1.2, 3.2], yd: row2 },
  { d: [vancouverLow2021, vancouverOther2021, vancouverLowFit2021, vancouverOtherFit2021], xd: [892.7, 1244], xr: [-1.2, 3.148], yd: row2 }
];

const traces = [];
const layout = {
  width: W, height: H, margin: { l: 0, r: 0, t: 0, b: 0 },
  paper_bgcolor: '#fff', plot_bgcolor: 'rgba(0,0,0,0)', showlegend: false,
  font: { family: FONT, color: '#000' },
  annotations: [], shapes: []
};
const axCommon = {
  showline: true, linecolor: '#000', linewidth: 1.6, ticks: 'outside', ticklen: 4, tickwidth: 1, tickcolor: '#333',
  tickfont: { family: FONT, size: 13.5, color: '#4d4d4d' }, showgrid: true, gridcolor: '#ebebeb', gridwidth: 1,
  zeroline: false, fixedrange: true
};
panels.forEach((p, i) => {
  const n = i === 0 ? '' : String(i + 1);
  const xa = 'x' + n, ya = 'y' + n;
  layout['xaxis' + n] = Object.assign({}, axCommon, {
    domain: [px(p.xd[0]), px(p.xd[1])], range: p.xr, anchor: ya,
    tickmode: 'array', tickvals: xTickVals, ticktext: xTickText, ticklabelstandoff: -6
  });
  layout['yaxis' + n] = Object.assign({}, axCommon, {
    domain: p.yd, range: [-5, 105], anchor: xa,
    tickmode: 'array', tickvals: yTickVals, ticktext: yTickText
  });
  const low = expand(p.d[0]), oth = expand(p.d[1]);
  traces.push({ type: 'scatter', mode: 'markers', x: low.xs, y: low.ys, xaxis: xa, yaxis: ya, name: groups[0],
    marker: { size: 9, color: LOW_PT, line: { width: 0.6, color: 'rgba(36,94,94,0.4)' } }, hoverinfo: 'skip' });
  traces.push({ type: 'scatter', mode: 'markers', x: oth.xs, y: oth.ys, xaxis: xa, yaxis: ya, name: groups[1],
    marker: { size: 9, color: OTHER_PT, line: { width: 0.6, color: 'rgba(204,85,25,0.4)' } }, hoverinfo: 'skip' });
  traces.push({ type: 'scatter', mode: 'lines', x: p.d[2].map(a => a[0]), y: p.d[2].map(a => a[1]), xaxis: xa, yaxis: ya,
    line: { color: LOW_FIT, width: 4.5, shape: 'spline', smoothing: 1 }, hoverinfo: 'skip' });
  traces.push({ type: 'scatter', mode: 'lines', x: p.d[3].map(a => a[0]), y: p.d[3].map(a => a[1]), xaxis: xa, yaxis: ya,
    line: { color: OTHER_FIT, width: 4.5, shape: 'spline', smoothing: 1 }, hoverinfo: 'skip' });
});

const ann = (text, x, y, o) => layout.annotations.push(Object.assign({
  text, x: px(x), y: py(y), xref: 'paper', yref: 'paper', showarrow: false, xanchor: 'center', yanchor: 'middle',
  font: { family: FONT, size: 19, color: '#000' }
}, o || {}));

// column titles
ann('<b>' + cities[0] + '</b>', 262, 18, { font: { family: FONT, size: 22, color: '#000' } });
ann('<b>' + cities[1] + '</b>', 670, 18, { font: { family: FONT, size: 22, color: '#000' } });
ann('<b>' + cities[2] + '</b>', 1076, 18, { font: { family: FONT, size: 22, color: '#000' } });
// row titles
ann('<b>' + years[0] + '</b>', 19, 145, { textangle: -90, font: { family: FONT, size: 25, color: '#000' } });
ann('<b>' + years[1] + '</b>', 21, 475, { textangle: -90, font: { family: FONT, size: 25, color: '#000' } });
// axis titles
ann(yAxisTitle, 48, 165, { textangle: -90, font: { family: FONT, size: 19, color: '#000' } });
ann(yAxisTitle, 47, 485, { textangle: -90, font: { family: FONT, size: 19, color: '#000' } });
ann(xAxisTitle, 650, 329, { font: { family: FONT, size: 18.7, color: '#000' } });
ann(xAxisTitle, 656.5, 644, { font: { family: FONT, size: 18, color: '#000' } });
// legend
ann(legendTitle, 582.5, 682, { font: { family: FONT, size: 19, color: '#000' } });
ann(groups[0], 742.5, 682, { font: { family: FONT, size: 16, color: '#000' } });
ann(groups[1], 823.5, 682, { font: { family: FONT, size: 16, color: '#000' } });

const rect = (x0, y0, x1, y1, fill) => layout.shapes.push({ type: 'rect', xref: 'paper', yref: 'paper',
  x0: px(x0), x1: px(x1), y0: py(y1), y1: py(y0), fillcolor: fill, line: { width: 0 }, layer: 'below' });
const circ = (cx, cy, r, fill) => layout.shapes.push({ type: 'circle', xref: 'paper', yref: 'paper',
  x0: px(cx - r), x1: px(cx + r), y0: py(cy + r), y1: py(cy - r), fillcolor: fill, line: { width: 0 } });
rect(690, 668, 720, 696, '#f2f2f2');
rect(767, 668, 797, 696, '#f2f2f2');
circ(705, 682, 4, 'rgba(36,94,94,0.45)');
circ(782, 682, 4, 'rgba(204,85,25,0.45)');
// separator lines
[[453, 55, 588], [860, 55, 595]].forEach(s => layout.shapes.push({ type: 'line', xref: 'paper', yref: 'paper',
  x0: px(s[0]), x1: px(s[0]), y0: py(s[1]), y1: py(s[2]), line: { color: '#ababab', width: 2 } }));

Plotly.newPlot('chart', traces, layout, { displayModeBar: false, staticPlot: true });
</script>
</body>
</html>
